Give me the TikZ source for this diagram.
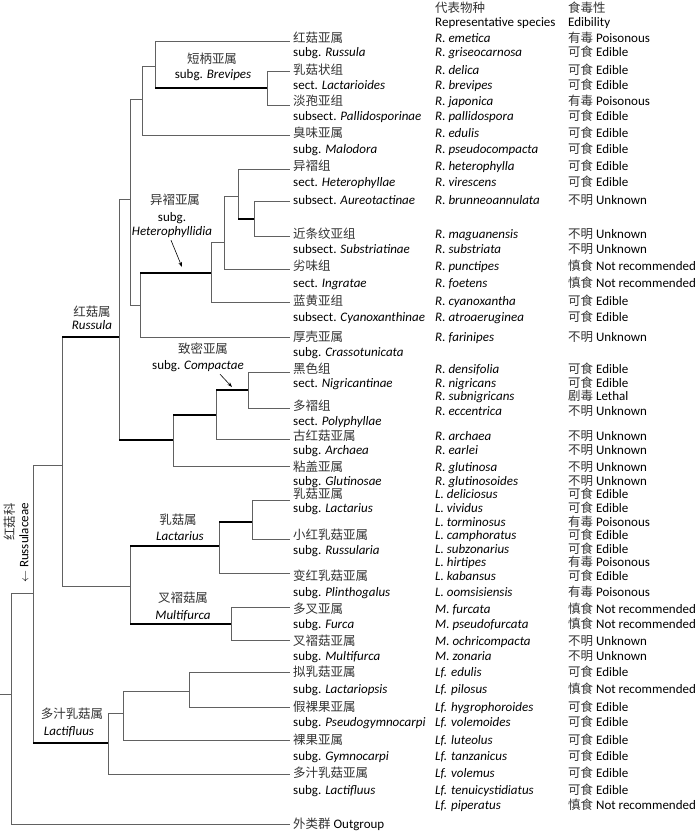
\documentclass[tikz,border=0pt]{standalone}
\usepackage{fontspec}
\setmainfont{Carlito}
\newfontfamily\cjk[Scale=0.96]{Noto Sans CJK SC}
\newcommand\zh[1]{{\cjk\color{black!80}#1}}
\newcommand\EdE{\zh{可食} Edible}
\newcommand\EdP{\zh{有毒} Poisonous}
\newcommand\EdU{\zh{不明} Unknown}
\newcommand\EdN{\zh{慎食} Not recommended}
\newcommand\lnk[2]{\draw[br] (#1) |- (#2);}
\newcommand\tlnk[2]{\draw[br] (#1) -- (#1 |- #2); \draw[thk] (#1 |- #2) -- (#2);}
\usetikzlibrary{arrows.meta}
\begin{document}
\begin{tikzpicture}[x=1pt,y=-1pt,
  br/.style={draw=black!62, line width=0.8pt},
  thk/.style={draw=black, line width=2.2pt},
  lab/.style={anchor=west, inner sep=0pt, font=\fontsize{13}{15}\selectfont, text height=9pt, text depth=3pt},
  clab/.style={anchor=center, inner sep=0pt, font=\fontsize{13}{15}\selectfont, text height=9pt, text depth=3pt},
  arr/.style={draw=black, line width=0.6pt, -{Stealth[length=5pt,width=3.5pt]}}]
\useasboundingbox (0,0) rectangle (700,831);
% ---------- tree coordinates ----------
\coordinate (t1) at (290,41);  \coordinate (t2) at (290,71);  \coordinate (t3) at (290,105);
\coordinate (t4) at (290,135); \coordinate (t6) at (290,169); \coordinate (t7) at (290,201);
\coordinate (t8) at (290,236); \coordinate (t9) at (290,269); \coordinate (t10) at (290,302);
\coordinate (t11) at (290,337);\coordinate (t12) at (290,372);\coordinate (t13) at (290,408);
\coordinate (t14) at (290,439);\coordinate (t15) at (290,466);\coordinate (t16) at (290,500);
\coordinate (t17) at (290,539);\coordinate (t18) at (290,573);\coordinate (t19) at (290,607);
\coordinate (t20) at (290,640);\coordinate (t21) at (290,672);\coordinate (t22) at (290,707);
\coordinate (t23) at (290,740);\coordinate (t24) at (290,774);\coordinate (t25) at (290,824);
\coordinate (nA) at (142,99);  \coordinate (nB) at (155,66);  \coordinate (nC) at (267,88);
\coordinate (nD) at (130,199); \coordinate (nE) at (140,305); \coordinate (nF) at (211,273);
\coordinate (nG) at (224,242); \coordinate (nH) at (238,196); \coordinate (nI) at (254,219);
\coordinate (nJ) at (119,337); \coordinate (nK) at (173,440); \coordinate (nL) at (216,415);
\coordinate (nM) at (248,390); \coordinate (nN) at (62,465);  \coordinate (nO) at (130,586);
\coordinate (nP) at (219,546); \coordinate (nR) at (252,522); \coordinate (nQ) at (231,624);
\coordinate (nS) at (33,593);  \coordinate (nU) at (108,743); \coordinate (nV) at (123,713);
\coordinate (nW) at (189,691); \coordinate (root) at (11,694); \coordinate (stub) at (0,694);
% ---------- branches ----------
\lnk{nB}{t1} \tlnk{nB}{nC} \lnk{nC}{t2} \lnk{nC}{t3}
\lnk{nA}{nB} \lnk{nA}{t4}
\lnk{nD}{nA} \lnk{nD}{nE}
\tlnk{nE}{nF} \lnk{nE}{t11}
\lnk{nF}{nG} \lnk{nF}{t10}
\lnk{nG}{nH} \lnk{nG}{t9}
\lnk{nH}{t6} \tlnk{nH}{nI}
\lnk{nI}{t7} \lnk{nI}{t8}
\lnk{nJ}{nD} \tlnk{nJ}{nK}
\tlnk{nK}{nL} \lnk{nK}{t15}
\tlnk{nL}{nM} \lnk{nL}{t14}
\lnk{nM}{t12} \lnk{nM}{t13}
\tlnk{nN}{nJ} \lnk{nN}{nO}
\tlnk{nO}{nP} \tlnk{nO}{nQ}
\tlnk{nP}{nR} \lnk{nP}{t18}
\lnk{nR}{t16} \lnk{nR}{t17}
\lnk{nQ}{t19} \lnk{nQ}{t20}
\lnk{nS}{nN} \tlnk{nS}{nU}
\lnk{nU}{nV} \lnk{nU}{t24}
\lnk{nV}{nW} \lnk{nV}{t23}
\lnk{nW}{t21} \lnk{nW}{t22}
\lnk{root}{nS} \lnk{root}{t25}
\draw[br] (stub) -- (root);
% ---------- clade labels ----------
\node[clab] (bv1) at (212,60) {\zh{短柄亚属}};
\node[clab] (bv2) at (213,75) {subg. \textit{Brevipes}};
\node[clab] (ht1) at (175,201) {\zh{异褶亚属}};
\node[clab] (ht2) at (172,218) {subg.};
\node[clab] (ht3) at (172,232) {\textit{Heterophyllidia}};
\node[clab] (ru1) at (92,313) {\zh{红菇属}};
\node[clab] (ru2) at (92,326) {\textit{Russula}};
\node[clab] (cp1) at (203,350) {\zh{致密亚属}};
\node[clab] (cp2) at (198,366) {subg. \textit{Compactae}};
\node[clab] (la1) at (178,521) {\zh{乳菇属}};
\node[clab] (la2) at (180,537) {\textit{Lactarius}};
\node[clab] (mf1) at (183,599) {\zh{叉褶菇属}};
\node[clab] (mf2) at (183,616) {\textit{Multifurca}};
\node[clab] (lf1) at (72,715) {\zh{多汁乳菇属}};
\node[clab] (lf2) at (69,732) {\textit{Lactifluus}};
\node[rotate=90, anchor=east, inner sep=0pt, font=\fontsize{13}{13}\selectfont] (fam1) at (10,503) {\zh{红菇科}};
\node[rotate=90, anchor=east, inner sep=0pt, font=\fontsize{13}{13}\selectfont] (fam2) at (24,503) {$\leftarrow$ Russulaceae};
\coordinate (hta) at (182,267);
\coordinate (cpa) at (232,387);
\draw[arr] ([xshift=-1pt,yshift=-2pt]ht3.south) -- (hta);
\draw[arr] ([xshift=22pt,yshift=-2pt]cp2.south) -- (cpa);
% ---------- headers ----------
\node[lab] (h1) at (435,9) {\zh{代表物种}};
\node[lab] (h2) at (435,23) {Representative species};
\node[lab] (h3) at (568,9) {\zh{食毒性}};
\node[lab] (h4) at (568,23) {Edibility};
% ---------- taxon labels ----------
\foreach \n/\y/\t in {1/39/{\zh{红菇亚属}},2/53/{subg. \textit{Russula}},3/71/{\zh{乳菇状组}},4/86/{sect. \textit{Lactarioides}},
 5/102/{\zh{淡孢亚组}},6/117/{subsect. \textit{Pallidosporinae}},7/134/{\zh{臭味亚属}},8/150/{subg. \textit{Malodora}},
 9/167/{\zh{异褶组}},10/183/{sect. \textit{Heterophyllae}},11/201/{subsect. \textit{Aureotactinae}},
 12/235/{\zh{近条纹亚组}},13/250/{subsect. \textit{Substriatinae}},14/267/{\zh{劣味组}},15/284/{sect. \textit{Ingratae}},
 16/302/{\zh{蓝黄亚组}},17/318/{subsect. \textit{Cyanoxanthinae}},18/338/{\zh{厚壳亚属}},19/353/{subg. \textit{Crassotunicata}},
 20/370/{\zh{黑色组}},21/384/{sect. \textit{Nigricantinae}},22/407/{\zh{多褶组}},23/422/{sect. \textit{Polyphyllae}},
 24/437/{\zh{古红菇亚属}},25/451/{subg. \textit{Archaea}},26/468/{\zh{粘盖亚属}},27/482/{subg. \textit{Glutinosae}},
 28/495/{\zh{乳菇亚属}},29/509/{subg. \textit{Lactarius}},30/536/{\zh{小红乳菇亚属}},31/551/{subg. \textit{Russularia}},
 32/577/{\zh{变红乳菇亚属}},33/593/{subg. \textit{Plinthogalus}},34/610/{\zh{多叉亚属}},35/625/{subg. \textit{Furca}},
 36/642/{\zh{叉褶菇亚属}},37/657/{subg. \textit{Multifurca}},38/673/{\zh{拟乳菇亚属}},39/690/{subg. \textit{Lactariopsis}},
 40/708/{\zh{假裸果亚属}},41/723/{subg. \textit{Pseudogymnocarpi}},42/741/{\zh{裸果亚属}},43/757/{subg. \textit{Gymnocarpi}},
 44/774/{\zh{多汁乳菇亚属}},45/791/{subg. \textit{Lactifluus}},46/825/{\zh{外类群} Outgroup}}
 {\node[lab] (c\n) at (293,\y) {\t};}
% ---------- species and edibility ----------
\foreach \n/\y/\s/\e in {1/39/R. emetica/\EdP,2/53/R. griseocarnosa/\EdE,3/71/R. delica/\EdE,4/86/R. brevipes/\EdE,
 5/102/R. japonica/\EdP,6/117/R. pallidospora/\EdE,7/134/R. edulis/\EdE,8/150/R. pseudocompacta/\EdE,
 9/167/R. heterophylla/\EdE,10/183/R. virescens/\EdE,11/201/R. brunneoannulata/\EdU,12/235/R. maguanensis/\EdU,
 13/250/R. substriata/\EdU,14/267/R. punctipes/\EdN,15/284/R. foetens/\EdN,16/302/R. cyanoxantha/\EdE,
 17/318/R. atroaeruginea/\EdE,18/338/R. farinipes/\EdU,19/370/R. densifolia/\EdE,20/384/R. nigricans/\EdE,
 21/397/R. subnigricans/{\zh{剧毒} Lethal},22/412/R. eccentrica/\EdU,23/437/R. archaea/\EdU,24/451/R. earlei/\EdU,
 25/468/R. glutinosa/\EdU,26/482/R. glutinosoides/\EdU,27/495/L. deliciosus/\EdE,28/509/L. vividus/\EdE,
 29/523/L. torminosus/\EdP,30/536/L. camphoratus/\EdE,31/550/L. subzonarius/\EdE,32/563/L. hirtipes/\EdP,
 33/577/L. kabansus/\EdE,34/593/L. oomsisiensis/\EdP,35/610/M. furcata/\EdN,36/625/M. pseudofurcata/\EdN,
 37/642/M. ochricompacta/\EdU,38/657/M. zonaria/\EdU,39/673/Lf. edulis/\EdE,40/690/Lf. pilosus/\EdN,
 41/708/Lf. hygrophoroides/\EdE,42/723/Lf. volemoides/\EdE,43/741/Lf. luteolus/\EdE,44/757/Lf. tanzanicus/\EdE,
 45/774/Lf. volemus/\EdE,46/791/Lf. tenuicystidiatus/\EdE,47/806/Lf. piperatus/\EdN}
 {\node[lab] (s\n) at (435,\y) {\textit{\s}};
  \node[lab] (e\n) at (568,\y) {\e};}
\end{tikzpicture}
\end{document}
